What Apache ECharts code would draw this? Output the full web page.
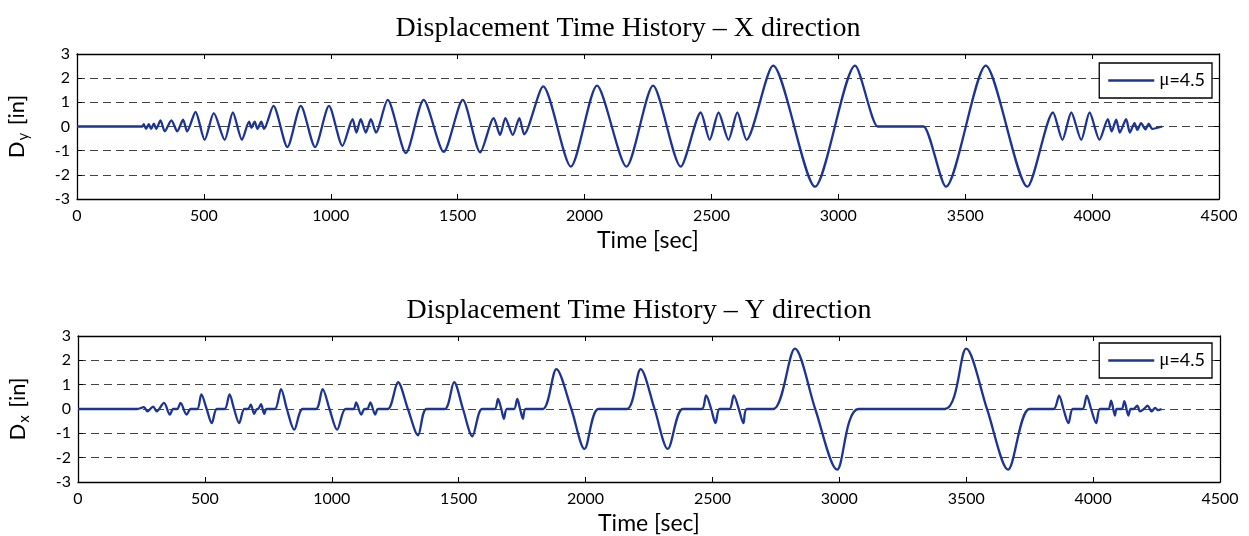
<!DOCTYPE html>
<html>
<head>
<meta charset="utf-8">
<script src="https://cdn.jsdelivr.net/npm/echarts@6/dist/echarts.min.js"></script>
<style>
  html, body { margin: 0; padding: 0; background: #fff; }
  #main { width: 1249px; height: 536px; }
</style>
</head>
<body>
<div id="main"></div>
<script>
// X direction record (top panel)
var topTime = [0, 257, 263, 272, 283, 292, 303, 312, 329, 346, 372, 395, 418, 434,
  467, 503, 539, 582, 614, 650,
  678, 687, 700, 711, 726, 737,
  774, 829, 882, 938, 993, 1046,
  1086, 1101, 1118, 1138, 1158, 1178,
  1224, 1296, 1366, 1445, 1520, 1589,
  1642, 1667, 1688, 1717, 1743, 1762,
  1837, 1946, 2049, 2165, 2270, 2379,
  2458, 2493, 2528, 2567, 2602, 2638,
  2743, 2908, 3066, 3155, 3165, 3326, 3336, 3424, 3581, 3745,
  3846, 3883, 3918, 3957, 3990, 4029,
  4062, 4077, 4095, 4109, 4134, 4149, 4167, 4178, 4193, 4210, 4223, 4237, 4276];
var topDisp = [0, 0, 0.1, -0.1, 0.1, -0.1, 0.12, -0.1, 0.25, -0.2, 0.25, -0.2, 0.28, -0.2,
  0.6, -0.55, 0.55, -0.55, 0.58, -0.55,
  0.2, -0.05, 0.2, -0.1, 0.2, -0.1,
  0.85, -0.85, 0.85, -0.85, 0.85, -0.8,
  0.3, -0.25, 0.3, -0.25, 0.3, -0.25,
  1.1, -1.1, 1.1, -1.05, 1.1, -1.07,
  0.35, -0.35, 0.35, -0.35, 0.35, -0.32,
  1.66, -1.66, 1.69, -1.66, 1.69, -1.66,
  0.58, -0.55, 0.58, -0.55, 0.58, -0.55,
  2.52, -2.49, 2.52, 0, 0, 0, 0, -2.49, 2.52, -2.49,
  0.58, -0.55, 0.58, -0.55, 0.58, -0.55,
  0.3, -0.2, 0.28, -0.25, 0.3, -0.25, 0.14, -0.14, 0.14, -0.12, 0.12, -0.1, 0];

// Y direction record (bottom panel)
var botTime = [0, 233, 260, 273, 296, 310, 339, 362, 375, 391, 404, 428, 444, 470,
  486, 507, 527, 547, 578, 597, 615, 635, 655, 670,
  681, 694, 705, 710, 721, 734, 743, 776,
  800, 823, 852, 885, 938, 964, 991, 1021, 1054, 1086,
  1096, 1116, 1129, 1140, 1152, 1171, 1182, 1221,
  1261, 1300, 1340, 1373, 1445, 1482, 1517, 1554, 1592, 1642,
  1655, 1668, 1678, 1690, 1718, 1731, 1742, 1753, 1764, 1832,
  1885, 1944, 1996, 2051, 2163, 2217, 2272, 2324, 2383, 2458,
  2475, 2495, 2512, 2528, 2567, 2584, 2604, 2622, 2636, 2740,
  2825, 2905, 2991, 3076, 3416, 3500, 3582, 3665, 3749, 3844,
  3866, 3883, 3903, 3920, 3958, 3975, 3992, 4012, 4027, 4060,
  4071, 4086, 4093, 4113, 4123, 4139, 4148, 4160, 4174, 4185, 4200, 4215, 4230, 4245, 4255, 4270];
var botDisp = [0, 0, 0.08, -0.1, 0.1, -0.1, 0.25, -0.23, 0, 0, 0.25, -0.23, 0, 0,
  0.6, 0, -0.58, 0, 0, 0.6, 0, -0.58, 0, 0,
  0.18, -0.2, 0, 0, 0.2, -0.2, 0, 0,
  0.82, 0, -0.85, 0, 0, 0.82, 0, -0.85, 0, 0,
  0.27, -0.23, 0, 0, 0.27, -0.23, 0, 0,
  1.1, 0, -1.08, 0, 0, 1.1, 0, -1.12, 0, 0,
  0.41, 0, -0.4, 0, 0, 0.41, 0, -0.4, 0, 0,
  1.64, 0, -1.64, 0, 0, 1.64, 0, -1.64, 0, 0,
  0.56, 0, -0.58, 0, 0, 0.56, 0, -0.58, 0, 0,
  2.48, 0, -2.49, 0, 0, 2.48, 0, -2.49, 0, 0,
  0.55, 0, -0.58, 0, 0, 0.55, 0, -0.58, 0, 0,
  0.34, -0.27, 0, 0, 0.32, -0.27, 0, 0, 0.14, -0.1, 0, 0.14, -0.1, 0.05, -0.05, 0];

var xTicks = [0, 4500, 500];   // min, max, step
var yTicks = [-3, 3, 1];
var seriesName = 'μ=4.5';

var lineColor = '#1c3494';
var sansFont = 'Lato';
var serifFont = 'Liberation Serif';

function pairs(t, v) {
  return t.map(function (x, i) { return [x, v[i]]; });
}
function plain(v) { return String(v); }

var chart = echarts.init(document.getElementById('main'), null, { renderer: 'canvas' });

var grids = [
  { left: 77, top: 54, width: 1142, height: 145, outerBoundsMode: 'none', containLabel: false },
  { left: 78, top: 336, width: 1142, height: 146, outerBoundsMode: 'none', containLabel: false }
];

var boxLine = { show: true, onZero: false, lineStyle: { color: '#000', width: 1.3 } };
var inTick = { show: true, inside: true, length: 5, lineStyle: { color: '#000' } };

function bottomAxis(gi) {
  return {
    type: 'value', gridIndex: gi, position: 'bottom',
    min: xTicks[0], max: xTicks[1], interval: xTicks[2],
    name: 'Time [sec]', nameLocation: 'middle', nameGap: 30,
    nameTextStyle: { fontFamily: sansFont, fontSize: 23, color: '#000' },
    axisLine: boxLine,
    axisTick: inTick,
    axisLabel: { color: '#000', fontFamily: sansFont, fontSize: 16, margin: 9, formatter: plain },
    splitLine: { show: false }
  };
}
function topAxis(gi) {
  return {
    type: 'value', gridIndex: gi, position: 'top',
    min: xTicks[0], max: xTicks[1], interval: xTicks[2],
    axisLine: boxLine,
    axisTick: inTick,
    axisLabel: { show: false },
    splitLine: { show: false }
  };
}
function leftAxis(gi, sub) {
  return {
    type: 'value', gridIndex: gi, position: 'left',
    min: yTicks[0], max: yTicks[1], interval: yTicks[2],
    name: '{d|D}{s|' + sub + '}{d| [in]}', nameLocation: 'middle', nameGap: 46, nameRotate: 90,
    nameTextStyle: {
      color: '#000',
      rich: {
        d: { fontFamily: sansFont, fontSize: 22, color: '#000' },
        s: { fontFamily: sansFont, fontSize: 15, color: '#000', padding: [14, 2, 0, 1], verticalAlign: 'bottom' }
      }
    },
    axisLine: boxLine,
    axisTick: inTick,
    axisLabel: { color: '#000', fontFamily: sansFont, fontSize: 16, margin: 7 },
    splitLine: { show: true, lineStyle: { color: '#444', width: 1, type: [8, 5] } }
  };
}
function rightAxis(gi) {
  return {
    type: 'value', gridIndex: gi, position: 'right',
    min: yTicks[0], max: yTicks[1], interval: yTicks[2],
    axisLine: boxLine,
    axisTick: inTick,
    axisLabel: { show: false },
    splitLine: { show: false }
  };
}

function legendBox(top) {
  return {
    right: 37, top: top,
    orient: 'vertical',
    data: [seriesName],
    selectedMode: false,
    icon: 'rect',
    backgroundColor: '#fff',
    borderColor: '#000', borderWidth: 1.3,
    padding: [8, 7, 8, 9],
    itemWidth: 46, itemHeight: 2.5, itemGap: 0,
    formatter: '{m|μ}{t|=4.5}',
    textStyle: {
      color: '#000',
      rich: {
        m: { fontFamily: serifFont, fontSize: 19, color: '#000' },
        t: { fontFamily: sansFont, fontSize: 18, color: '#000' }
      }
    }
  };
}

function titleText(text, x, y) {
  return {
    text: text, left: x, top: y, textAlign: 'center',
    textStyle: { fontFamily: serifFont, fontSize: 28, fontWeight: 'normal', color: '#000' }
  };
}

var option = {
  backgroundColor: '#fff',
  animation: false,
  title: [
    titleText('Displacement Time History – X direction', 623, 10),
    titleText('Displacement Time History – Y direction', 634, 292)
  ],
  legend: [legendBox(63), legendBox(343)],
  grid: grids,
  xAxis: [bottomAxis(0), topAxis(0), bottomAxis(1), topAxis(1)],
  yAxis: [leftAxis(0, 'y'), rightAxis(0), leftAxis(1, 'x'), rightAxis(1)],
  series: [
    {
      name: seriesName, type: 'line', xAxisIndex: 0, yAxisIndex: 0,
      data: pairs(topTime, topDisp),
      symbol: 'none', smooth: 0.25,
      lineStyle: { color: lineColor, width: 2.3 },
      itemStyle: { color: lineColor }
    },
    {
      name: seriesName, type: 'line', xAxisIndex: 2, yAxisIndex: 2,
      data: pairs(botTime, botDisp),
      symbol: 'none', smooth: 0.3,
      lineStyle: { color: lineColor, width: 2.3 },
      itemStyle: { color: lineColor }
    }
  ]
};

chart.setOption(option);
</script>
</body>
</html>
